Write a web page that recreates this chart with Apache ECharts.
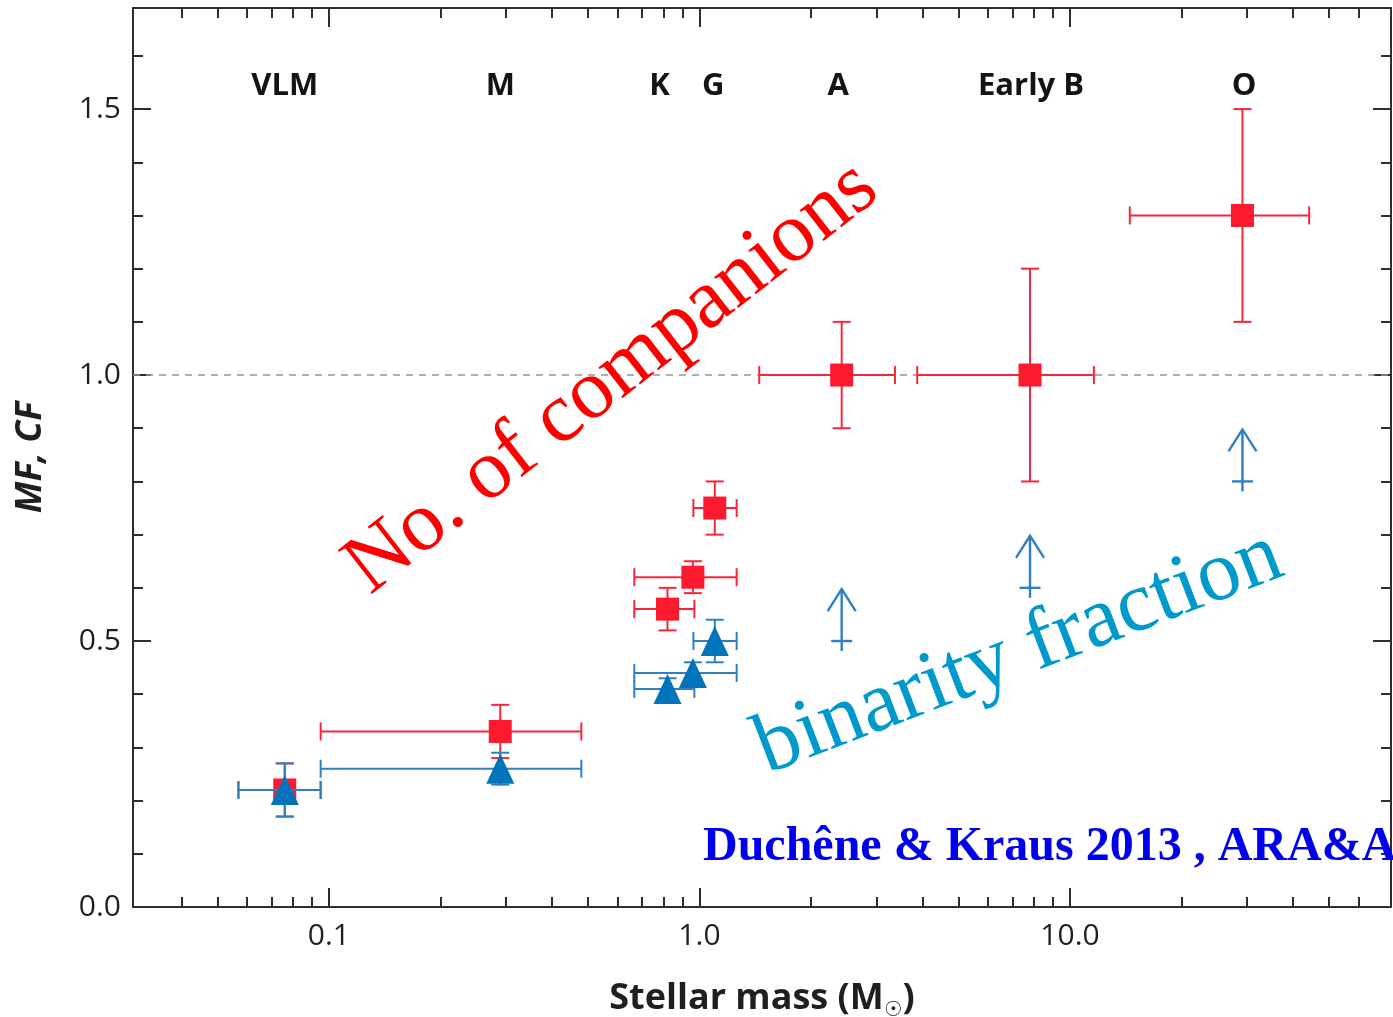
<!DOCTYPE html>
<html>
<head>
<meta charset="utf-8">
<title>Multiplicity vs stellar mass</title>
<script src="https://cdn.jsdelivr.net/npm/echarts@6/dist/echarts.min.js"></script>
<style>
  html, body { margin: 0; padding: 0; background: #ffffff; }
  #chart { width: 1393px; height: 1017px; }
</style>
</head>
<body>
<div id="chart"></div>
<script>
// ---- axis ranges and ticks ----
const X_MIN = 0.0296;
const X_MAX = 73.5;
const Y_MIN = 0;
const Y_MAX = 1.69;
const xMajorTicks = [0.1, 1, 10];
const xTickLabels = ['0.1', '1.0', '10.0'];
const xMinorTicks = [0.04, 0.05, 0.06, 0.07, 0.08, 0.09,
                     0.2, 0.3, 0.4, 0.5, 0.6, 0.7, 0.8, 0.9,
                     2, 3, 4, 5, 6, 7, 8, 9,
                     20, 30, 40, 50, 60];
const yMajorTicks = [0, 0.5, 1.0, 1.5];
const yMinorTicks = [0.1, 0.2, 0.3, 0.4, 0.6, 0.7, 0.8, 0.9,
                     1.1, 1.2, 1.3, 1.4, 1.6];

// ---- spectral type labels along the top ----
const spectralTypes = ['VLM', 'M', 'K', 'G', 'A', 'Early B', 'O'];
const spectralTypeMass = [0.076, 0.29, 0.78, 1.09, 2.37, 7.85, 29.5];
const spectralLabelLevel = 1.543;

// ---- companion frequency (red squares) ----
const cfMass     = [0.076, 0.29, 0.82, 0.96, 1.10, 2.42, 7.8, 29.2];
const cfMassLow  = [0.057, 0.095, 0.667, 0.667, 0.963, 1.45, 3.87, 14.5];
const cfMassHigh = [0.095, 0.48, 0.969, 1.26, 1.26, 3.37, 11.6, 44.2];
const cfValue    = [0.22, 0.33, 0.56, 0.62, 0.75, 1.00, 1.00, 1.30];
const cfLow      = [0.17, 0.28, 0.52, 0.59, 0.70, 0.90, 0.80, 1.10];
const cfHigh     = [0.27, 0.38, 0.60, 0.65, 0.80, 1.10, 1.20, 1.50];

// ---- multiplicity frequency (blue triangles) ----
const mfMass     = [0.076, 0.29, 0.82, 0.96, 1.10];
const mfMassLow  = [0.057, 0.095, 0.667, 0.667, 0.963];
const mfMassHigh = [0.095, 0.48, 0.969, 1.26, 1.26];
const mfValue    = [0.22, 0.26, 0.41, 0.44, 0.50];
const mfLow      = [0.17, 0.23, 0.39, 0.42, 0.46];
const mfHigh     = [0.27, 0.29, 0.43, 0.46, 0.54];

// ---- multiplicity frequency lower limits (blue arrows) ----
const mfLimitMass  = [2.42, 7.8, 29.2];
const mfLimitValue = [0.50, 0.60, 0.80];

// reference level MF/CF = 1
const unityLevel = 1.0;

// ---- styling ----
const RED_MARK = '#fe1a2e';
const RED_BAR = '#fa2439';
const BLUE_MARK = '#0073bb';
const BLUE_BAR = '#2f80c2';
const AXIS_COLOR = '#2e2e2e';
const TEXT_COLOR = '#1f1f1f';
const SANS = '"Open Sans", "DejaVu Sans", sans-serif';
const SERIF = '"Liberation Serif", "DejaVu Serif", serif';
const CAP = 18;

function rows(cols) {
  return cols[0].map((_, i) => cols.map(c => c[i]));
}

function errorBars(color) {
  return function (params, api) {
    const x = api.value(0), y = api.value(1);
    const pL = api.coord([api.value(2), y]);
    const pR = api.coord([api.value(3), y]);
    const pB = api.coord([x, api.value(4)]);
    const pT = api.coord([x, api.value(5)]);
    const h = CAP / 2;
    const style = { stroke: color, lineWidth: 2, fill: null };
    const seg = (x1, y1, x2, y2) => ({ type: 'line', shape: { x1, y1, x2, y2 }, style });
    return {
      type: 'group',
      children: [
        seg(pL[0], pL[1], pR[0], pR[1]),
        seg(pL[0], pL[1] - h, pL[0], pL[1] + h),
        seg(pR[0], pR[1] - h, pR[0], pR[1] + h),
        seg(pB[0], pB[1], pT[0], pT[1]),
        seg(pB[0] - h, pB[1], pB[0] + h, pB[1]),
        seg(pT[0] - h, pT[1], pT[0] + h, pT[1])
      ]
    };
  };
}

function lowerLimitArrow(params, api) {
  const p = api.coord([api.value(0), api.value(1)]);
  const style = { stroke: BLUE_BAR, lineWidth: 2.4, fill: null };
  const tipY = p[1] - 52;
  return {
    type: 'group',
    children: [
      { type: 'line', shape: { x1: p[0], y1: p[1] + 10, x2: p[0], y2: tipY }, style },
      { type: 'line', shape: { x1: p[0] - 10.5, y1: p[1], x2: p[0] + 10.5, y2: p[1] }, style },
      { type: 'polyline', shape: { points: [[p[0] - 14, tipY + 22], [p[0], tipY], [p[0] + 14, tipY + 22]] }, style }
    ]
  };
}

function logAxis(position, ticks, len, extra) {
  return Object.assign({
    type: 'log', logBase: 10, min: X_MIN, max: X_MAX, position,
    axisLine: { show: true, onZero: false, lineStyle: { color: AXIS_COLOR, width: 2 } },
    axisTick: { show: true, inside: true, length: len, customValues: ticks,
                lineStyle: { color: AXIS_COLOR, width: 2 } },
    axisLabel: { show: false },
    splitLine: { show: false },
    minorTick: { show: false },
    silent: true
  }, extra || {});
}

function valueAxis(position, ticks, len, extra) {
  return Object.assign({
    type: 'value', min: Y_MIN, max: Y_MAX, position,
    axisLine: { show: true, onZero: false, lineStyle: { color: AXIS_COLOR, width: 2 } },
    axisTick: { show: true, inside: true, length: len, customValues: ticks,
                lineStyle: { color: AXIS_COLOR, width: 2 } },
    axisLabel: { show: false },
    splitLine: { show: false },
    silent: true
  }, extra || {});
}

const chart = echarts.init(document.getElementById('chart'), null, { renderer: 'canvas' });

const option = {
  animation: false,
  backgroundColor: '#ffffff',
  grid: { left: 133, right: 2, top: 8, bottom: 110, containLabel: false, outerBoundsMode: 'none' },
  xAxis: [
    logAxis('bottom', xMajorTicks, 19, {
      axisLabel: {
        show: true, customValues: xMajorTicks, margin: 14,
        fontFamily: SANS, fontSize: 30, color: TEXT_COLOR,
        formatter: v => xTickLabels[xMajorTicks.findIndex(t => Math.abs(t - v) < 1e-9 * Math.max(1, t))] || ''
      },
      name: '{a|Stellar mass (M}{s|☉}{a|)}',
      nameLocation: 'middle',
      nameGap: 70,
      nameTextStyle: {
        rich: {
          a: { fontFamily: SANS, fontSize: 36, fontWeight: 'bold', color: TEXT_COLOR, lineHeight: 44 },
          s: { fontFamily: '"DejaVu Sans", sans-serif', fontSize: 21, color: TEXT_COLOR, lineHeight: 22, verticalAlign: 'bottom' }
        }
      }
    }),
    logAxis('bottom', xMinorTicks, 10, { axisLine: { show: false, onZero: false } }),
    logAxis('top', xMajorTicks, 19),
    logAxis('top', xMinorTicks, 10, { axisLine: { show: false, onZero: false } })
  ],
  yAxis: [
    valueAxis('left', yMajorTicks, 18, {
      axisLabel: {
        show: true, customValues: yMajorTicks, margin: 12,
        fontFamily: SANS, fontSize: 30, color: TEXT_COLOR,
        formatter: v => v.toFixed(1)
      },
      name: 'MF, CF',
      nameLocation: 'middle',
      nameGap: 84,
      nameRotate: 90,
      nameTextStyle: { fontFamily: SANS, fontSize: 36, fontWeight: 'bold', fontStyle: 'italic', color: TEXT_COLOR }
    }),
    valueAxis('left', yMinorTicks, 10, { axisLine: { show: false, onZero: false } }),
    valueAxis('right', yMajorTicks, 18),
    valueAxis('right', yMinorTicks, 10, { axisLine: { show: false, onZero: false } })
  ],
  series: [
    {
      name: 'unity',
      type: 'line',
      silent: true,
      symbol: 'none',
      data: [[X_MIN, unityLevel], [X_MAX, unityLevel]],
      lineStyle: { color: '#969696', width: 1.6, type: [7, 6] },
      z: 1
    },
    {
      name: 'CF errors',
      type: 'custom',
      silent: true,
      renderItem: errorBars(RED_BAR),
      data: rows([cfMass, cfValue, cfMassLow, cfMassHigh, cfLow, cfHigh]),
      encode: { x: 0, y: 1 },
      z: 2
    },
    {
      name: 'CF',
      type: 'scatter',
      silent: true,
      symbol: 'rect',
      symbolSize: 23,
      itemStyle: { color: RED_MARK, opacity: 1 },
      data: rows([cfMass, cfValue]),
      z: 3
    },
    {
      name: 'MF errors',
      type: 'custom',
      silent: true,
      renderItem: errorBars(BLUE_BAR),
      data: rows([mfMass, mfValue, mfMassLow, mfMassHigh, mfLow, mfHigh]),
      encode: { x: 0, y: 1 },
      z: 4
    },
    {
      name: 'MF',
      type: 'scatter',
      silent: true,
      symbol: 'triangle',
      symbolSize: [28, 30],
      itemStyle: { color: BLUE_MARK, opacity: 1 },
      data: rows([mfMass, mfValue]),
      z: 5
    },
    {
      name: 'MF lower limits',
      type: 'custom',
      silent: true,
      renderItem: lowerLimitArrow,
      data: rows([mfLimitMass, mfLimitValue]),
      encode: { x: 0, y: 1 },
      z: 5
    },
    {
      name: 'spectral types',
      type: 'scatter',
      silent: true,
      symbol: 'circle',
      symbolSize: 1,
      itemStyle: { color: '#ffffff', opacity: 0 },
      data: spectralTypes.map((n, i) => ({ name: n, value: [spectralTypeMass[i], spectralLabelLevel] })),
      label: {
        show: true, position: 'inside', formatter: '{b}', opacity: 1,
        fontFamily: SANS, fontSize: 31, fontWeight: 'bold', color: '#141414',
        textBorderWidth: 0, textBorderColor: 'transparent'
      },
      z: 6
    }
  ],
  graphic: [
    {
      type: 'text', x: 612, y: 378, rotation: 38 * Math.PI / 180, z: 100, silent: true,
      style: { text: 'No. of companions', fontFamily: SERIF, fontSize: 85, fill: '#ff0000', align: 'center', verticalAlign: 'middle' }
    },
    {
      type: 'text', x: 1019, y: 653, rotation: 21 * Math.PI / 180, z: 100, silent: true,
      style: { text: 'binarity fraction', fontFamily: SERIF, fontSize: 86, fill: '#0099cc', align: 'center', verticalAlign: 'middle' }
    },
    {
      type: 'text', x: 703, y: 848, z: 100, silent: true,
      style: { text: 'Duchêne & Kraus 2013 , ARA&A', fontFamily: SERIF, fontSize: 48, fontWeight: 'bold', fill: '#0000ee', align: 'left', verticalAlign: 'middle' }
    }
  ]
};

chart.setOption(option);
</script>
</body>
</html>
